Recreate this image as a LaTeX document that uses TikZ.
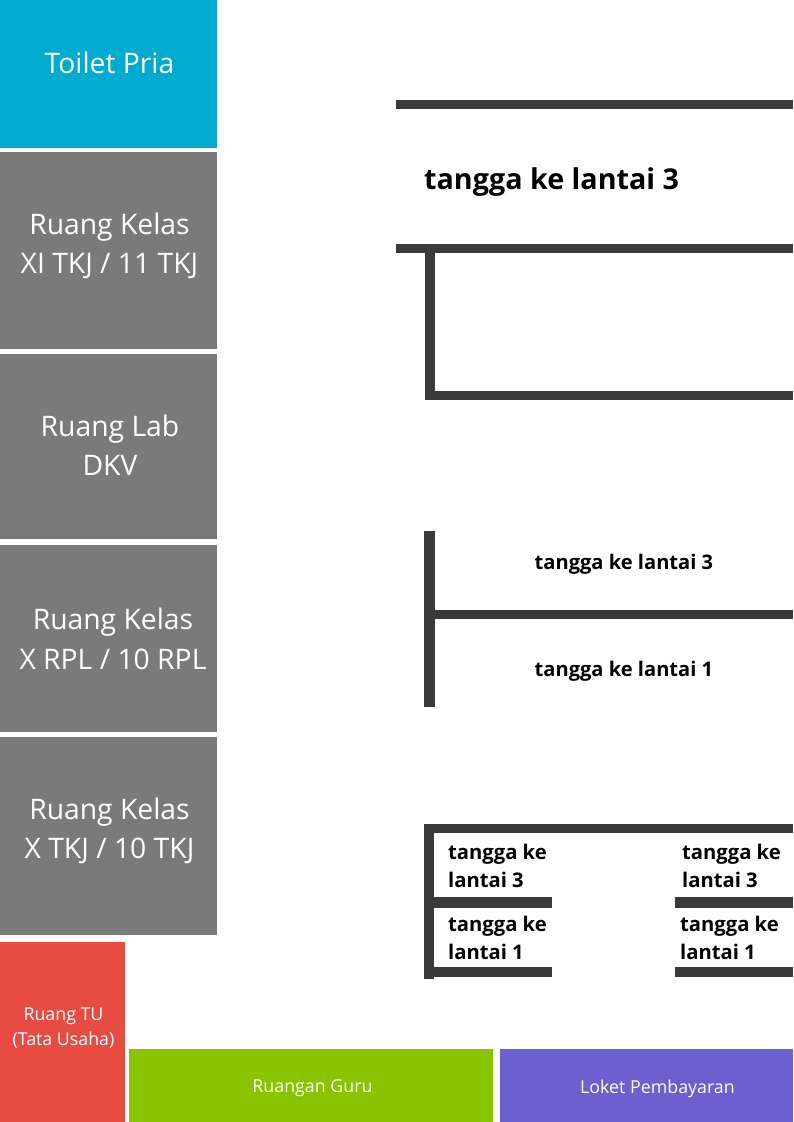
\documentclass[tikz,border=0pt]{standalone}
\usepackage{fontspec}
\setmainfont{Open Sans}
\definecolor{wallc}{HTML}{3A3A3A}
\definecolor{roomg}{HTML}{7A7A7A}
\definecolor{tealr}{HTML}{00ABCF}
\definecolor{redr}{HTML}{E64C42}
\definecolor{greenr}{HTML}{8AC400}
\definecolor{purpler}{HTML}{6C60D0}
\tikzset{x=1pt,y=-1pt,
 room/.style={anchor=center,inner sep=0,outer sep=0,align=center,text=white,font=\fontsize{28.3}{39.5}\selectfont},
 smallroom/.style={room,font=\fontsize{17.8}{25}\selectfont},
 wall/.style={fill=wallc},
 big/.style={anchor=west,inner sep=0,font=\fontsize{28.7}{36}\selectfont\bfseries,text=black},
 mid/.style={anchor=west,inner sep=0,font=\fontsize{20.1}{26}\selectfont\bfseries,align=left,text=black},
 sm/.style={anchor=west,inner sep=0,font=\fontsize{20.2}{28}\selectfont\bfseries,align=left,text=black}}
\begin{document}
\begin{tikzpicture}
\useasboundingbox (0,0) rectangle (793,1122);
\fill[white] (0,0) rectangle (793,1122);
\fill[tealr] (0,0) rectangle (217,148);
\fill[roomg] (0,152) rectangle (217,349);
\fill[roomg] (0,354) rectangle (217,539);
\fill[roomg] (0,545) rectangle (217,732);
\fill[roomg] (0,737) rectangle (217,935);
\fill[redr] (0,942) rectangle (125,1122);
\fill[greenr] (129,1049) rectangle (493,1122);
\fill[purpler] (500,1049) rectangle (793,1122);
\node[room] (toilet) at (109.5,63) {Toilet Pria};
\node[room] (xitkj) at (109.5,246) {Ruang Kelas\\XI TKJ / 11 TKJ};
\node[room] (lab) at (110,445) {Ruang Lab\\DKV};
\node[room] (xrpl) at (113,639) {Ruang Kelas\\X RPL / 10 RPL};
\node[room] (xtkj) at (109.5,831) {Ruang Kelas\\X TKJ / 10 TKJ};
\node[smallroom] (tu) at (63.5,1028) {Ruang TU\\(Tata Usaha)};
\node[smallroom] (guru) at (312.5,1088) {Ruangan Guru};
\node[smallroom] (loket) at (657.5,1089) {Loket Pembayaran};
% walls top
\fill[wall] (396,100) rectangle (793,109);
\fill[wall] (396,244) rectangle (793,253);
\fill[wall] (425,253) rectangle (435,400);
\fill[wall] (425,391) rectangle (793,400);
\node[big] (t1) at (424,182) {tangga ke lantai 3};
% walls middle
\fill[wall] (424,531) rectangle (435,707);
\fill[wall] (435,610) rectangle (793,619);
\node[mid] (t2) at (534.5,564) {tangga ke lantai 3};
\node[mid] (t3) at (534.5,671) {tangga ke lantai 1};
% walls bottom
\fill[wall] (424,824) rectangle (433.5,979);
\fill[wall] (433.5,824) rectangle (793,832.7);
\fill[wall] (433.5,897) rectangle (552,908);
\fill[wall] (433.5,967) rectangle (552,977);
\fill[wall] (675,897) rectangle (793,908);
\fill[wall] (675,967) rectangle (793,977);
\node[sm] (a) at (448,866) {tangga ke\\lantai 3};
\node[sm] (b) at (448,938) {tangga ke\\lantai 1};
\node[sm] (c) at (682,866) {tangga ke\\lantai 3};
\node[sm] (d) at (680,938) {tangga ke\\lantai 1};
\end{tikzpicture}
\end{document}
